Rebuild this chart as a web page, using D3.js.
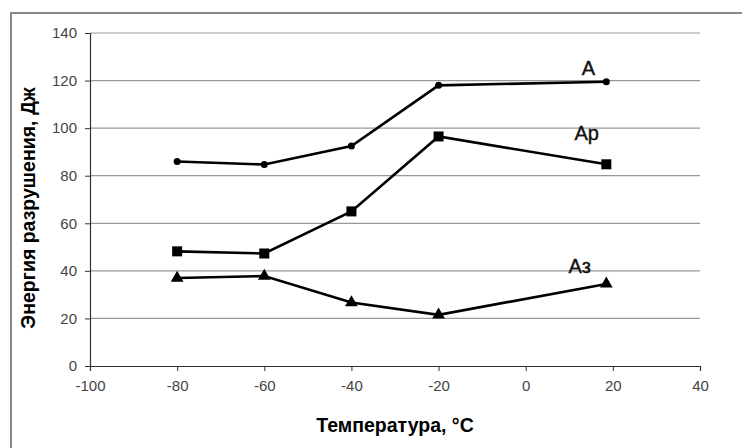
<!DOCTYPE html>
<html>
<head>
<meta charset="utf-8">
<script src="https://cdn.jsdelivr.net/npm/d3@7"></script>
<style>
  body { margin: 0; background: #fff; }
  svg { display: block; font-family: Arial, "Liberation Sans", sans-serif; }
</style>
</head>
<body>
<svg width="742" height="448"></svg>
<script>
const temps = [-80, -60, -40, -20, 18.5];
const seriesA = [86, 84.7, 92.5, 118, 119.5];
const seriesAp = [48.2, 47.3, 65, 96.5, 84.8];
const seriesAz = [37, 37.8, 26.7, 21.5, 34.5];
const seriesNames = ['A', 'Ap', 'Аз'];
const xTicks = [-100, -80, -60, -40, -20, 0, 20, 40];
const yTicks = [0, 20, 40, 60, 80, 100, 120, 140];

const svg = d3.select('svg');
const margin = { left: 90, right: 42, top: 33, bottom: 82 };
const width = 742, height = 448;

const x = d3.scaleLinear().domain([-100, 40]).range([margin.left, width - margin.right]);
const y = d3.scaleLinear().domain([0, 140]).range([height - margin.bottom, margin.top]);

// outer frame
svg.append('rect')
    .attr('x', 11).attr('y', 13)
    .attr('width', 760).attr('height', 460)
    .attr('fill', 'none')
    .attr('stroke', '#888')
    .attr('stroke-width', 2);

// grid
svg.append('g')
    .selectAll('line')
    .data(yTicks.filter(d => d > 0))
    .enter().append('line')
    .attr('x1', x(-100)).attr('x2', x(40))
    .attr('y1', d => y(d)).attr('y2', d => y(d))
    .attr('stroke', '#999')
    .attr('stroke-width', 1.2);

const fmt = d => String(d);
const xAxis = svg.append('g')
    .attr('transform', `translate(0,${y(0)})`)
    .call(d3.axisBottom(x).tickValues(xTicks).tickFormat(fmt).tickSize(5).tickPadding(9));
const yAxis = svg.append('g')
    .attr('transform', `translate(${x(-100)},0)`)
    .call(d3.axisLeft(y).tickValues(yTicks).tickFormat(fmt).tickSize(5).tickPadding(8));
[xAxis, yAxis].forEach(a => {
    a.attr('font-size', 15).attr('font-family', 'Arial, "Liberation Sans", sans-serif');
    a.select('.domain').attr('stroke', '#333').attr('stroke-width', 1.2);
    a.selectAll('.tick line').attr('stroke', '#333');
    a.selectAll('.tick text').attr('fill', '#444');
});

const line = d3.line().x((d, i) => x(temps[i])).y(d => y(d));
const series = [seriesA, seriesAp, seriesAz];
series.forEach(s => {
    svg.append('path')
        .attr('d', line(s))
        .attr('fill', 'none')
        .attr('stroke', '#000')
        .attr('stroke-width', 2.6);
});

svg.selectAll('circle.a')
    .data(seriesA).enter().append('circle')
    .attr('cx', (d, i) => x(temps[i])).attr('cy', d => y(d))
    .attr('r', 3.5).attr('fill', '#000');

svg.selectAll('rect.ap')
    .data(seriesAp).enter().append('rect')
    .attr('x', (d, i) => x(temps[i]) - 5).attr('y', d => y(d) - 5)
    .attr('width', 10).attr('height', 10).attr('fill', '#000');

const tri = d3.symbol().type(d3.symbolTriangle).size(70);
svg.selectAll('path.az')
    .data(seriesAz).enter().append('path')
    .attr('d', tri)
    .attr('transform', (d, i) => `translate(${x(temps[i])},${y(d)})`)
    .attr('fill', '#000');

// series labels
const labelPos = [[14.4, 122.5], [14, 95], [12.4, 39]];
seriesNames.forEach((n, i) => {
    svg.append('text')
        .attr('x', x(labelPos[i][0])).attr('y', y(labelPos[i][1]))
        .attr('text-anchor', 'middle')
        .attr('font-size', 20)
        .attr('stroke', '#111').attr('stroke-width', 0.4)
        .attr('fill', '#111')
        .text(n);
});

svg.append('text')
    .attr('x', 395).attr('y', 432)
    .attr('text-anchor', 'middle')
    .attr('font-size', 19.5).attr('font-weight', 'bold')
    .text('Температура, °C');

svg.append('text')
    .attr('transform', 'translate(35,208) rotate(-90)')
    .attr('text-anchor', 'middle')
    .attr('font-size', 19.5).attr('font-weight', 'bold')
    .text('Энергия разрушения, Дж');
</script>
</body>
</html>
